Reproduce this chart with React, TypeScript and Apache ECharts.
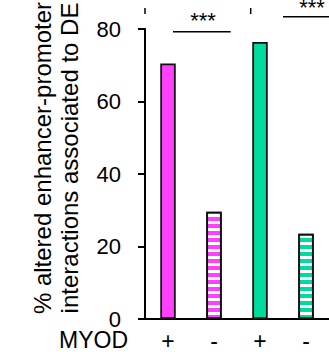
import React, { useEffect, useRef } from "react";
import * as echarts from "echarts";

const categories = ["+", "-", "+", "-"];
const values = [70.5, 29.6, 76.4, 23.5];
const barColors = ["#ff40ff", "#ff40ff", "#00dc9d", "#00dc9d"];
const striped = [false, true, false, true];
const yMin = 0;
const yMax = 80;
const yInterval = 20;
const xTitle = "MYOD";
const yTitle = "% altered enhancer-promoter\ninteractions associated to DE";
const sigLabel = "***";

const FONT = "'Liberation Sans', Arial, sans-serif";

export default function App() {
  const ref = useRef<HTMLDivElement>(null);
  useEffect(() => {
    if (!ref.current) return;
    const chart = echarts.init(ref.current, null, { renderer: "svg" });
    const data = values.map((v, i) => ({
      value: v,
      itemStyle: striped[i]
        ? {
            color: "#ffffff",
            borderColor: "#111",
            borderWidth: 1.8,
            decal: {
              symbol: "rect",
              symbolSize: 1,
              color: barColors[i],
              dashArrayX: [1, 0],
              dashArrayY: [4, 3],
              rotation: 0,
            },
          }
        : { color: barColors[i], borderColor: "#111", borderWidth: 1.8 },
    }));
    chart.setOption({
      animation: false,
      grid: { left: 145, top: 29, width: 211.6, height: 290, containLabel: false },
      xAxis: {
        type: "category",
        data: categories,
        axisLine: { show: true, lineStyle: { color: "#000", width: 2 } },
        axisTick: { show: false },
        axisLabel: { color: "#000", fontSize: 23, fontFamily: FONT, margin: 10.5 },
        splitLine: { show: false },
      },
      yAxis: {
        type: "value",
        min: yMin,
        max: yMax,
        interval: yInterval,
        axisLine: { show: true, lineStyle: { color: "#000", width: 2 } },
        axisTick: { show: true, length: 7, lineStyle: { color: "#000", width: 2 } },
        axisLabel: { color: "#000", fontSize: 22, fontFamily: FONT, margin: 24 },
        splitLine: { show: false },
      },
      series: [
        {
          type: "bar",
          data,
          barWidth: 15.5,
          clip: false,
        },
      ],
      graphic: [
        {
          type: "text",
          x: 56.3,
          y: 158,
          rotation: Math.PI / 2,
          style: {
            text: yTitle,
            font: `24px ${FONT}`,
            fill: "#000",
            textAlign: "center",
            textVerticalAlign: "middle",
            lineHeight: 27,
          },
        },
        {
          type: "text",
          x: 128,
          y: 340,
          style: {
            text: xTitle,
            font: `23px ${FONT}`,
            fill: "#000",
            textAlign: "right",
            textVerticalAlign: "middle",
          },
        },
        {
          type: "text",
          x: 203,
          y: 20,
          style: { text: sigLabel, font: `22px ${FONT}`, fill: "#000", textAlign: "center", textVerticalAlign: "middle" },
        },
        {
          type: "text",
          x: 312,
          y: 7,
          style: { text: sigLabel, font: `22px ${FONT}`, fill: "#000", textAlign: "center", textVerticalAlign: "middle" },
        },
        { type: "line", shape: { x1: 173, y1: 31.7, x2: 230.7, y2: 31.7 }, style: { stroke: "#000", lineWidth: 1.5 } },
        { type: "line", shape: { x1: 283, y1: 16.7, x2: 340, y2: 16.7 }, style: { stroke: "#000", lineWidth: 1.5 } },
        { type: "line", shape: { x1: 145, y1: 8, x2: 145, y2: 14 }, style: { stroke: "#000", lineWidth: 1.5 } },
        { type: "line", shape: { x1: 250.7, y1: 8, x2: 250.7, y2: 14 }, style: { stroke: "#000", lineWidth: 1.5 } },
      ],
    });
    return () => chart.dispose();
  }, []);
  return (
    <div
      ref={ref}
      style={{ position: "fixed", left: 0, top: 0, width: 329, height: 360, background: "#fff" }}
    />
  );
}
